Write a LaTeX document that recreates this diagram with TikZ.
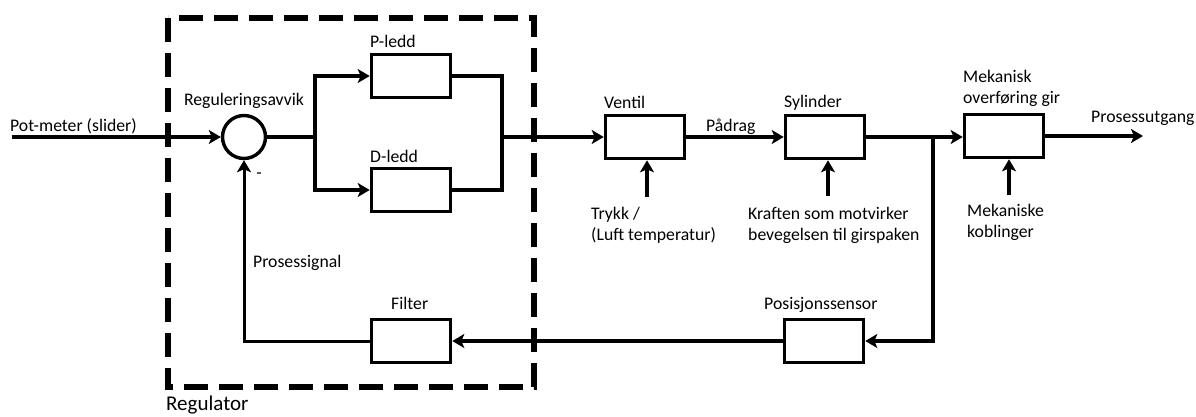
\documentclass[tikz,border=0pt]{standalone}
\usepackage{fontspec}
\setmainfont{Carlito}
\usetikzlibrary{arrows.meta}
\begin{document}
\begin{tikzpicture}[x=1pt,y=-1pt,
  blk/.style={draw,line width=3.6pt,minimum width=79pt,minimum height=43pt,inner sep=0pt},
  sumc/.style={draw,circle,line width=3.4pt,minimum size=43pt,inner sep=0pt},
  lbl/.style={font=\fontsize{17.7}{21}\selectfont,inner sep=0pt,align=left},
  conn/.style={line width=3.3pt},
  arr/.style={conn,-{Stealth[length=12pt,width=14pt,inset=3pt]}},
  regbox/.style={line width=5.5pt,dash pattern=on 24pt off 11pt},
]
\useasboundingbox (0,0) rectangle (1196,416);
% regulator frame
\draw[regbox] (168,18) rectangle (534,387);
\node[lbl,anchor=base west,font=\fontsize{21}{24}\selectfont] (reglbl) at (166,410) {Regulator};
% blocks
\node[sumc] (sum) at (244,137) {};
\node[blk] (P) at (411,76) {};
\node[blk] (D) at (411,190) {};
\node[blk] (V) at (645,137) {};
\node[blk] (S) at (825,137) {};
\node[blk] (M) at (1004,136) {};
\node[blk] (PS) at (824,341) {};
\node[blk] (F) at (411,341) {};
% coordinates
\coordinate (in) at (12,137);
\coordinate (br) at (315,137);
\coordinate (jn) at (502,137);
\coordinate (j2) at (933,137);
\coordinate (out) at (1143,136);
\coordinate (tv) at (647,197);
\coordinate (ts) at (828,196);
\coordinate (tm) at (1009,195);
% connectors
\draw[arr] (in) -- (sum.west);
\draw[conn] (sum.east) -- (br);
\draw[arr] (br) |- (P.west);
\draw[arr] (br) |- (D.west);
\draw[conn] (P.east) -| (jn);
\draw[conn] (D.east) -| (jn);
\draw[arr] (jn) -- (V.west);
\draw[arr] (V.east) -- (S.west);
\draw[conn] (S.east) -- (j2);
\draw[arr] (j2) -- (M.west |- j2);
\draw[arr] (M.east) -- (out);
\draw[arr] (j2) |- (PS.east);
\draw[arr] (PS.west) -- (F.east);
\draw[arr,line width=3pt] (F.west) -| (sum.south);
\draw[arr] (tv) -- (tv |- V.south);
\draw[arr] (ts) -- (ts |- S.south);
\draw[arr] (tm) -- (tm |- M.south);
% labels
\node[lbl,anchor=base west] (lin) at (10,131) {Pot-meter (slider)};
\node[lbl,anchor=base] (lsum) at (244,105) {Reguleringsavvik};
\node[lbl,anchor=base] (lminus) at (259,178) {-};
\node[lbl,anchor=base west] (lP) at (370,47) {P-ledd};
\node[lbl,anchor=base west] (lD) at (370,162) {D-ledd};
\node[lbl,anchor=base west] (lV) at (604,108) {Ventil};
\node[lbl,anchor=base west] (lpad) at (706,131) {Pådrag};
\node[lbl,anchor=base west] (lS) at (784,107) {Sylinder};
\node[lbl,anchor=base west] (ltr) at (591,240) {Trykk /\\(Luft temperatur)};
\node[lbl,anchor=base west] (lkr) at (748,240) {Kraften som motvirker\\bevegelsen til girspaken};
\node[lbl,anchor=base west] (lM) at (963,103) {Mekanisk\\overføring gir};
\node[lbl,anchor=base west] (lout) at (1091,122) {Prosessutgang};
\node[lbl,anchor=base west] (lmk) at (967,237) {Mekaniske\\koblinger};
\node[lbl,anchor=base west] (lps) at (253,267) {Prosessignal};
\node[lbl,anchor=base west] (lF) at (391,309) {Filter};
\node[lbl,anchor=base west] (lPS) at (764,309) {Posisjonssensor};
\end{tikzpicture}
\end{document}
